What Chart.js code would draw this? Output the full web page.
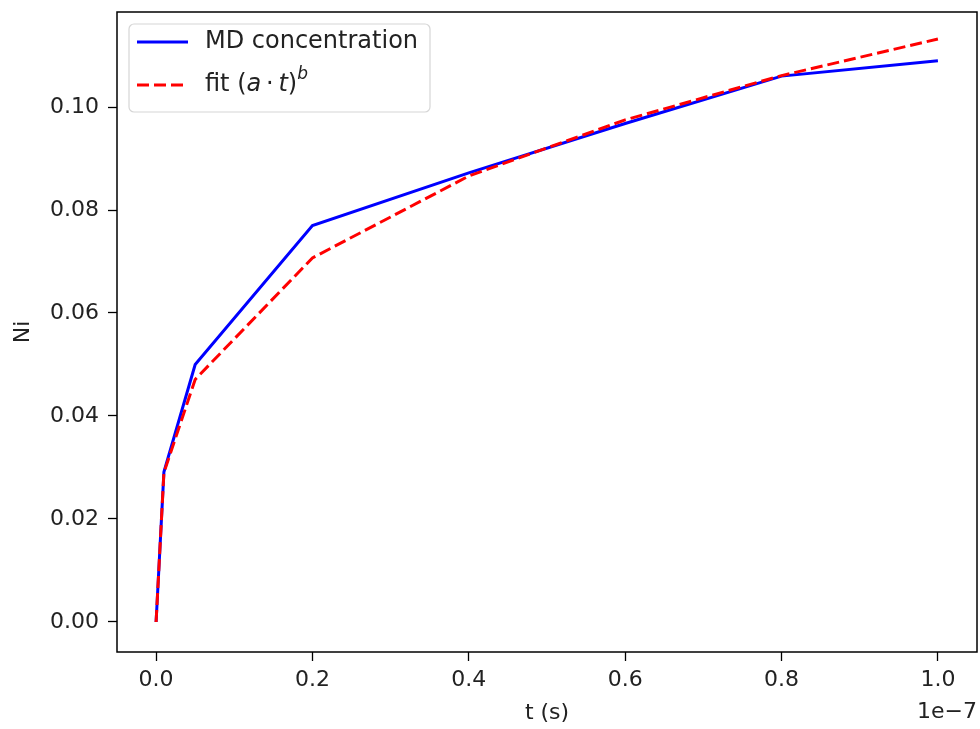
<!DOCTYPE html>
<html>
<head>
<meta charset="utf-8">
<script src="https://cdn.jsdelivr.net/npm/chart.js@4"></script>
<style>
  body { margin: 0; background: #fff; }
  #wrap { width: 980px; height: 729px; }
</style>
</head>
<body>
<div id="wrap"><canvas id="graf"></canvas></div>
<script>
// data ------------------------------------------
const tValues = [0, 0.01, 0.05, 0.2, 0.4, 0.6, 0.8, 1.0];   // x 1e-7 s
const mdValues = [0, 0.0291, 0.0500, 0.0770, 0.0872, 0.0968, 0.1060, 0.1090];
const fitValues = [0, 0.0290, 0.0471, 0.0707, 0.0866, 0.0975, 0.1061, 0.1132];
const xTicks = [0.0, 0.2, 0.4, 0.6, 0.8, 1.0];
const yTicks = [0.00, 0.02, 0.04, 0.06, 0.08, 0.10];

const FONT = 'DejaVu Sans';

function pts(ys) {
  return tValues.map((t, i) => ({ x: t, y: ys[i] }));
}

// caixa + offset text + legenda
const framePlugin = {
  id: 'frame',
  afterDatasetsDraw(chart) {
    const { ctx, chartArea: a } = chart;
    ctx.save();
    ctx.strokeStyle = '#000';
    ctx.lineWidth = 1.5;
    ctx.strokeRect(a.left, a.top, a.right - a.left, a.bottom - a.top);

    // offset do eixo x
    ctx.fillStyle = '#222';
    ctx.font = '22px ' + FONT;
    ctx.textAlign = 'right';
    ctx.textBaseline = 'middle';
    ctx.fillText('1e\u22127', a.right, 712);

    // legenda
    const bx = 129, by = 24, bw = 301, bh = 88, r = 5;
    ctx.beginPath();
    ctx.moveTo(bx + r, by);
    ctx.arcTo(bx + bw, by, bx + bw, by + bh, r);
    ctx.arcTo(bx + bw, by + bh, bx, by + bh, r);
    ctx.arcTo(bx, by + bh, bx, by, r);
    ctx.arcTo(bx, by, bx + bw, by, r);
    ctx.closePath();
    ctx.fillStyle = 'rgba(255,255,255,0.8)';
    ctx.fill();
    ctx.strokeStyle = '#d6d6d6';
    ctx.lineWidth = 1.2;
    ctx.stroke();

    const rows = [42, 85];
    chart.data.datasets.forEach((ds, i) => {
      const y = rows[i];
      ctx.beginPath();
      ctx.setLineDash(ds.borderDash || []);
      ctx.strokeStyle = ds.borderColor;
      ctx.lineWidth = ds.borderWidth;
      ctx.moveTo(137, y);
      ctx.lineTo(188, y);
      ctx.stroke();
      ctx.setLineDash([]);
      ctx.fillStyle = '#222';
      ctx.textAlign = 'left';
      ctx.textBaseline = 'middle';
      let x = 205;
      (ds.legendParts || [[ds.label, '']]).forEach(p => {
        const [txt, style] = p;
        let dy = 0;
        if (style === 'sup') {
          ctx.font = 'italic 17px ' + FONT;
          dy = -10;
        } else if (style === 'i') {
          ctx.font = 'italic 24px ' + FONT;
        } else {
          ctx.font = '24px ' + FONT;
        }
        ctx.fillText(txt, x, y + dy);
        x += ctx.measureText(txt).width;
      });
    });
    ctx.restore();
  }
};

const ctxGraf = document.getElementById('graf').getContext('2d');
new Chart(ctxGraf, {
  type: 'line',
  data: {
    datasets: [{
      label: 'MD concentration',
      data: pts(mdValues),
      borderColor: '#0000ff',
      borderWidth: 3,
      pointRadius: 0,
      tension: 0,
      order: 2
    }, {
      label: 'fit (a\u00b7t)^b',
      legendParts: [['fit (', ''], ['a', 'i'], ['\u2009\u00b7\u2009', ''], ['t', 'i'], [')', ''], ['b', 'sup']],
      data: pts(fitValues),
      borderColor: '#ff0000',
      borderWidth: 3,
      borderDash: [12, 5],
      pointRadius: 0,
      tension: 0,
      order: 1
    }]
  },
  options: {
    responsive: true,
    maintainAspectRatio: false,
    animation: false,
    layout: { padding: { top: 12, right: 3, left: 0, bottom: 0 } },
    plugins: {
      legend: { display: false },
      tooltip: { enabled: false }
    },
    scales: {
      x: {
        type: 'linear',
        min: -0.05,
        max: 1.05,
        afterBuildTicks: s => { s.ticks = xTicks.map(v => ({ value: v })); },
        afterFit: s => { s.height = 77; s.paddingLeft = 0; s.paddingRight = 0; },
        grid: { drawOnChartArea: false, tickLength: 9, color: '#000', tickWidth: 1.3 },
        border: { display: false },
        ticks: {
          color: '#222',
          padding: 6,
          font: { family: FONT, size: 22 },
          callback: v => v.toFixed(1)
        },
        title: {
          display: true,
          text: 't (s)',
          color: '#222',
          font: { family: FONT, size: 22 },
          padding: { top: 0, bottom: 3 }
        }
      },
      y: {
        type: 'linear',
        min: -0.00583,
        max: 0.11845,
        afterBuildTicks: s => { s.ticks = yTicks.map(v => ({ value: v })); },
        afterFit: s => { s.width = 117; s.paddingTop = 0; s.paddingBottom = 0; },
        grid: { drawOnChartArea: false, tickLength: 9, color: '#000', tickWidth: 1.3 },
        border: { display: false },
        ticks: {
          color: '#222',
          padding: 9,
          font: { family: FONT, size: 22 },
          callback: v => v.toFixed(2)
        },
        title: {
          display: true,
          text: 'Ni',
          color: '#222',
          font: { family: FONT, size: 22 },
          padding: { top: 10, bottom: 0 }
        }
      }
    }
  },
  plugins: [framePlugin]
});
</script>
</body>
</html>
